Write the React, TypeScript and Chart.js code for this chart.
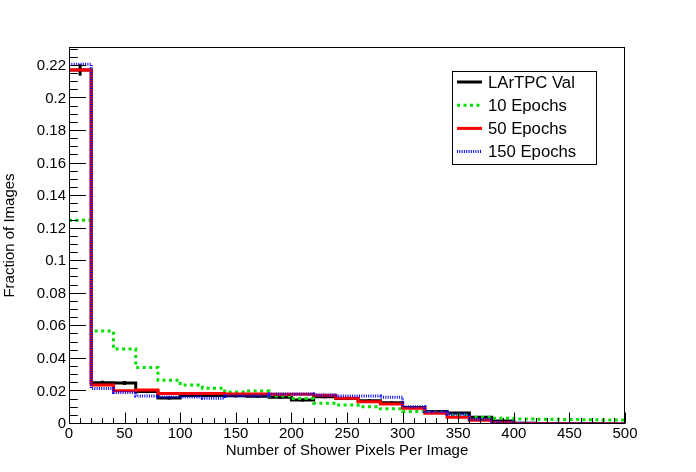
import React, { useEffect, useRef } from "react";
import Chart from "chart.js/auto";

// bin low edges (bin width 20), histogram ends at 500
const binEdges = [
  0, 20, 40, 60, 80, 100, 120, 140, 160, 180, 200, 220, 240, 260, 280, 300,
  320, 340, 360, 380, 400, 420, 440, 460, 480,
];
const xMax = 500;
const xTicks = [0, 50, 100, 150, 200, 250, 300, 350, 400, 450, 500];
const yTicks = [0, 0.02, 0.04, 0.06, 0.08, 0.1, 0.12, 0.14, 0.16, 0.18, 0.2, 0.22];
const yMax = 0.2316;

const lartpcVal = [
  0.2175, 0.0254, 0.0252, 0.02, 0.016, 0.0175, 0.0175, 0.0173, 0.0171, 0.0164,
  0.0147, 0.0168, 0.0156, 0.0143, 0.0131, 0.0101, 0.0077, 0.0067, 0.0042,
  0.0018, 0.0005, 0.0002, 0.0001, 0.0001, 0.0,
];
const lartpcValErr = [
  0.0035, 0.0012, 0.0012, 0.0011, 0.001, 0.001, 0.001, 0.001, 0.001, 0.001,
  0.0009, 0.001, 0.0009, 0.0009, 0.0009, 0.0008, 0.0007, 0.0006, 0.0005,
  0.0003, 0.0002, 0.0001, 0.0001, 0.0001, 0.0,
];
const epochs10 = [
  0.1252, 0.0571, 0.046, 0.0347, 0.0269, 0.0239, 0.022, 0.0196, 0.0202, 0.0172,
  0.0156, 0.0127, 0.0116, 0.0106, 0.0093, 0.0077, 0.0071, 0.0056, 0.0042,
  0.0035, 0.0031, 0.0029, 0.0027, 0.0026, 0.0025,
];
const epochs50 = [
  0.2175, 0.0239, 0.0204, 0.0209, 0.0188, 0.0188, 0.0188, 0.0184, 0.0184,
  0.0183, 0.0182, 0.0177, 0.0158, 0.0137, 0.0123, 0.0096, 0.0066, 0.0042,
  0.0023, 0.0009, 0.0003, 0.0001, 0.0001, 0.0, 0.0,
];
const epochs150 = [
  0.221, 0.0218, 0.0194, 0.0172, 0.0166, 0.0166, 0.0158, 0.0174, 0.0174,
  0.0184, 0.0184, 0.0178, 0.0172, 0.0172, 0.0164, 0.0106, 0.0076, 0.006,
  0.0029, 0.0011, 0.0004, 0.0002, 0.0001, 0.0, 0.0,
];

const FONT = '"Liberation Sans", Arial, Helvetica, sans-serif';

const toSteps = (values: number[]) => [
  ...values.map((y, i) => ({ x: binEdges[i], y })),
  { x: xMax, y: values[values.length - 1] },
];

// ROOT style error bars drawn right after their own histogram
const errorBars = {
  id: "errorBars",
  afterDatasetDraw(chart: any, args: any) {
    const ds = chart.data.datasets[args.index];
    if (!ds.errors) return;
    const { ctx, scales } = chart;
    ctx.save();
    ctx.strokeStyle = ds.borderColor;
    ctx.lineWidth = 3;
    ds.errors.forEach((e: number, i: number) => {
      if (!e) return;
      const v = ds.values[i];
      const px = scales.x.getPixelForValue(binEdges[i] + 10);
      ctx.beginPath();
      ctx.moveTo(px, scales.y.getPixelForValue(v - e));
      ctx.lineTo(px, scales.y.getPixelForValue(v + e));
      ctx.stroke();
    });
    ctx.restore();
  },
};

// frame and inward ticks like a ROOT canvas
const rootFrame = {
  id: "rootFrame",
  afterDraw(chart: any) {
    const { ctx, chartArea: a, scales } = chart;
    ctx.save();
    ctx.strokeStyle = "#000";
    ctx.lineWidth = 1;
    ctx.strokeRect(
      Math.round(a.left) + 0.5,
      Math.round(a.top) + 0.5,
      Math.round(a.right - a.left) - 1,
      Math.round(a.bottom - a.top) - 1
    );
    const bottom = Math.round(a.bottom) - 0.5;
    const left = Math.round(a.left) + 0.5;
    ctx.beginPath();
    for (let v = 0; v <= xMax; v += 10) {
      const px = Math.round(scales.x.getPixelForValue(v)) + 0.5;
      const len = v % 50 === 0 ? 11 : 5.5;
      ctx.moveTo(px, bottom);
      ctx.lineTo(px, bottom - len);
    }
    for (let k = 0; k * 0.005 <= yMax; k++) {
      const py = Math.round(scales.y.getPixelForValue(k * 0.005)) - 0.5;
      const len = k % 4 === 0 ? 16.5 : 8.3;
      ctx.moveTo(left, py);
      ctx.lineTo(left + len, py);
    }
    ctx.stroke();
    ctx.restore();
  },
};

const rootLegend = {
  id: "rootLegend",
  afterDraw(chart: any) {
    const { ctx } = chart;
    const box = { left: 452.5, top: 71.5, width: 144, height: 93 };
    ctx.save();
    ctx.fillStyle = "#fff";
    ctx.fillRect(box.left, box.top, box.width, box.height);
    ctx.strokeStyle = "#000";
    ctx.lineWidth = 1;
    ctx.strokeRect(box.left, box.top, box.width, box.height);
    ctx.font = `16.7px ${FONT}`;
    ctx.textBaseline = "middle";
    ctx.textAlign = "left";
    const order = [0, 1, 2, 3];
    order.forEach((idx, row) => {
      const ds = chart.data.datasets[idx];
      const y = 82 + row * 23.2;
      ctx.save();
      ctx.strokeStyle = ds.borderColor;
      ctx.lineWidth = ds.borderWidth;
      ctx.setLineDash(ds.borderDash || []);
      ctx.beginPath();
      ctx.moveTo(457, y);
      ctx.lineTo(482, y);
      ctx.stroke();
      ctx.restore();
      ctx.fillStyle = "#000";
      ctx.fillText(ds.label, 488, y + 1);
    });
    ctx.restore();
  },
};

const App: React.FC = () => {
  const canvasRef = useRef<HTMLCanvasElement | null>(null);

  useEffect(() => {
    if (!canvasRef.current) return;
    const ctx = canvasRef.current.getContext("2d");
    if (!ctx) return;

    const common = {
      stepped: true,
      pointRadius: 0,
      borderWidth: 3,
      fill: false,
      tension: 0,
    };

    const chart = new Chart(ctx, {
      type: "line",
      data: {
        datasets: [
          {
            ...common,
            label: "LArTPC Val",
            data: toSteps(lartpcVal),
            values: lartpcVal,
            errors: lartpcValErr,
            borderColor: "#000000",
            order: 4,
          } as any,
          {
            ...common,
            label: "10 Epochs",
            data: toSteps(epochs10),
            borderColor: "#00e000",
            borderDash: [3, 3.5],
            order: 3,
          },
          {
            ...common,
            label: "50 Epochs",
            data: toSteps(epochs50),
            borderColor: "#ff0000",
            order: 2,
          },
          {
            ...common,
            label: "150 Epochs",
            data: toSteps(epochs150),
            borderColor: "#0000ff",
            borderDash: [1, 1.3],
            order: 1,
          },
        ],
      },
      options: {
        animation: false,
        responsive: false,
        events: [],
        layout: { padding: { top: 47, right: 71, left: 0, bottom: 0 } },
        plugins: {
          legend: { display: false },
          tooltip: { enabled: false },
        },
        scales: {
          x: {
            type: "linear",
            min: 0,
            max: xMax,
            afterBuildTicks: (s: any) => {
              s.ticks = xTicks.map((value) => ({ value }));
            },
            afterFit: (s: any) => {
              s.height = 48;
            },
            grid: { display: false, drawTicks: false },
            border: { display: false },
            ticks: {
              autoSkip: false,
              maxRotation: 0,
              padding: 1,
              color: "#000",
              font: { family: FONT, size: 15 },
            },
            title: {
              display: true,
              text: "Number of Shower Pixels Per Image",
              color: "#000",
              font: { family: FONT, size: 15 },
              padding: { top: 0, bottom: 12.5 },
            },
          },
          y: {
            type: "linear",
            min: 0,
            max: yMax,
            afterBuildTicks: (s: any) => {
              s.ticks = yTicks.map((value) => ({ value }));
            },
            afterFit: (s: any) => {
              s.width = 69;
            },
            grid: { display: false, drawTicks: false },
            border: { display: false },
            ticks: {
              autoSkip: false,
              padding: 3,
              color: "#000",
              font: { family: FONT, size: 15 },
              callback: (v: any) => String(parseFloat(Number(v).toFixed(3))),
            },
            title: {
              display: true,
              text: "Fraction of Images",
              color: "#000",
              font: { family: FONT, size: 15 },
              padding: { top: 1.3, bottom: 0 },
            },
          },
        },
      },
      plugins: [errorBars, rootFrame, rootLegend],
    });

    return () => {
      chart.destroy();
    };
  }, []);

  return (
    <div style={{ position: "absolute", left: 0, top: 0, width: 696, height: 472, background: "#fff" }}>
      <canvas ref={canvasRef} width={696} height={472} style={{ width: 696, height: 472 }}></canvas>
    </div>
  );
};

export default App;
